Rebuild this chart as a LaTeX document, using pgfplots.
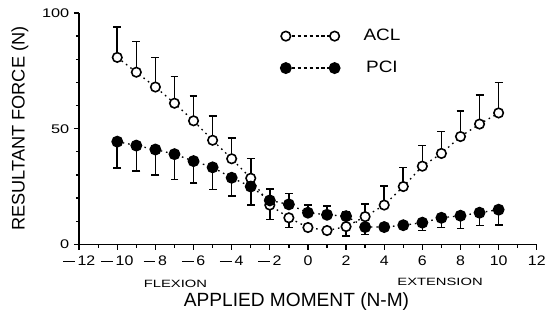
\documentclass[border=0pt]{standalone}
\usepackage{fontspec}
\setmainfont{Liberation Sans}
\newfontfamily\wideA[FakeStretch=1.15]{Liberation Sans}
\newfontfamily\wideB[FakeStretch=1.3]{Liberation Sans}
\newfontfamily\wideC[FakeStretch=1.4]{Liberation Sans}
\usepackage{pgfplots}
\pgfplotsset{compat=1.18}
\usepackage{pgfplotstable}
\newcommand\mn{\rule[0.27em]{0.85em}{0.09em}\hspace{0.2em}}

\pgfplotstableread{
x y ep em
-10 80.8 13.2 0
-9 74.4 13.2 0
-8 68.0 12.8 0
-7 61.0 11.6 0
-6 53.4 10.6 0
-5 45.0 10.6 0
-4 37.0 9.0 0
-3 28.6 8.5 0
-2 17.0 7.0 0
-1 11.5 0 4.2
0 7.3 0 0
1 6.0 0 0
2 7.7 0 4.0
3 12.0 5.5 0
4 17.0 8.2 0
5 25.0 8.3 0
6 33.8 8.9 0
7 39.3 9.4 0
8 46.6 11.1 0
9 52.0 12.5 0
10 56.8 13.2 0
}\acl

\pgfplotstableread{
x y ep em
-10 44.4 0 11.4
-9 42.7 0 11.1
-8 41.0 0 11.0
-7 39.0 0 11.0
-6 36.0 0 9.5
-5 33.3 0 9.5
-4 28.8 0 7.8
-3 25.0 0 8.0
-2 19.0 0 8.3
-1 17.3 4.7 0
0 13.7 3.3 0
1 12.8 3.9 0
2 12.2 2.0 0
3 7.5 0 3.3
4 7.5 0 1.5
5 8.3 0 1.5
6 9.4 0 3.4
7 11.5 0 4.2
8 12.4 0 5.6
9 13.7 0 5.6
10 15.0 0 6.5
}\pci

\begin{document}
\begin{tikzpicture}
\begin{axis}[
  scale only axis, width=347pt, height=175.5pt,
  xmin=-12, xmax=12, ymin=0, ymax=100,
  axis x line*=bottom, axis y line*=left,
  axis line style={line width=1.1pt, -},
  xtick={-12,-10,...,12},
  xticklabels={\mn12,\mn10,\mn8,\mn6,\mn4,\mn2,0,2,4,6,8,10,12},
  minor x tick num=1,
  ytick={0,50,100}, minor y tick num=4,
  tick align=outside,
  major tick length=4pt, minor tick length=2.5pt,
  tick style={line width=1pt, black},
  xticklabel style={font=\wideA\fontsize{10.5}{12}\selectfont, yshift=-1.5pt},
  yticklabel style={font=\wideB\fontsize{9.5}{11}\selectfont},
  /pgf/number format/assume math mode=true,
  xlabel={APPLIED MOMENT (N-M)}, ylabel={RESULTANT FORCE (N)},
  xlabel style={font=\fontsize{14.5}{16}\selectfont, at={(axis cs:-0.6,-24.8)}, anchor=center},
  ylabel style={font=\fontsize{13.8}{16}\selectfont, at={(axis cs:-15.1,50)}, anchor=center},
  clip=false,
  legend style={at={(axis cs:-1.65,95.3)}, anchor=north west, draw=none, fill=none,
    font=\wideA\fontsize{12.5}{14}\selectfont, row sep=10pt,
    /tikz/every odd column/.append style={column sep=16pt}},
  legend image code/.code={\draw[#1, dash pattern=on 2.5pt off 2pt] plot coordinates {(0cm,0cm) (1.3cm,0cm)};},
]
\addplot[black, line width=1pt, dash pattern=on 1.2pt off 3pt,
  mark=*, mark size=3.6pt, mark options={solid, fill=white, line width=1.2pt},
  error bars/.cd, y dir=both, y explicit,
  error bar style={solid, line width=1.2pt},
  error mark options={rotate=90, mark size=3pt, line width=1.2pt}]
  table[x=x, y=y, y error plus=ep, y error minus=em]{\acl};
\addlegendentry{ACL}
\addplot[black, line width=1pt, dash pattern=on 1.2pt off 3pt,
  mark=*, mark size=3.9pt, mark options={solid, fill=black, line width=1.2pt},
  error bars/.cd, y dir=both, y explicit,
  error bar style={solid, line width=1.2pt},
  error mark options={rotate=90, mark size=3pt, line width=1.2pt}]
  table[x=x, y=y, y error plus=ep, y error minus=em]{\pci};
\addlegendentry{PCI}
\node[font=\wideC\fontsize{8}{10}\selectfont] at (axis cs:-6.95,-17.1) {FLEXION};
\node[font=\wideC\fontsize{8}{10}\selectfont] at (axis cs:6.93,-16.2) {EXTENSION};
\path (axis cs:-16.15,-31.2) rectangle (axis cs:12.36,105.6);
\end{axis}
\end{tikzpicture}
\end{document}
